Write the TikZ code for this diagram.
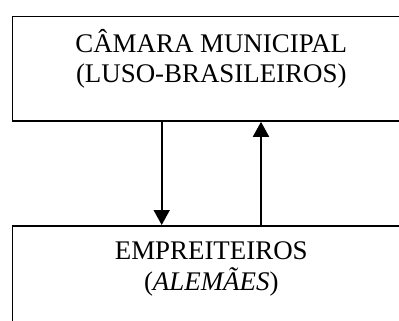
\documentclass[tikz,border=0pt]{standalone}
\usepackage{fontspec}
\setmainfont{Liberation Serif}
\usetikzlibrary{arrows.meta}
\tikzset{
  box/.style={draw, line width=1.8pt, minimum width=399.5pt, inner sep=0pt, anchor=north west},
  label/.style={font=\fontsize{26.9pt}{31pt}\selectfont, align=center, inner sep=0pt, anchor=base},
  arr/.style={line width=1.7pt, -{Triangle[width=16pt,length=15pt]}}
}
\begin{document}
\begin{tikzpicture}[x=1pt,y=-1pt]
\useasboundingbox (0,0) rectangle (399,321);
\clip (0,0) rectangle (399,321);
\node[box, minimum height=104.3pt] (top) at (11.5,15.7) {};
\node[box, minimum height=120pt] (bot) at (11.5,225) {};
\node[label] (topT) at (211.25,83) {CÂMARA MUNICIPAL\\(LUSO-BRASILEIROS)};
\node[label] (botT) at (211.25,290) {EMPREITEIROS\\(\textit{ALEMÃES})};
\coordinate (dx) at (161.7,0);
\coordinate (ux) at (261,0);
\draw[arr] (top.south -| dx) -- (bot.north -| dx);
\draw[arr] (bot.north -| ux) -- (top.south -| ux);
\end{tikzpicture}
\end{document}
